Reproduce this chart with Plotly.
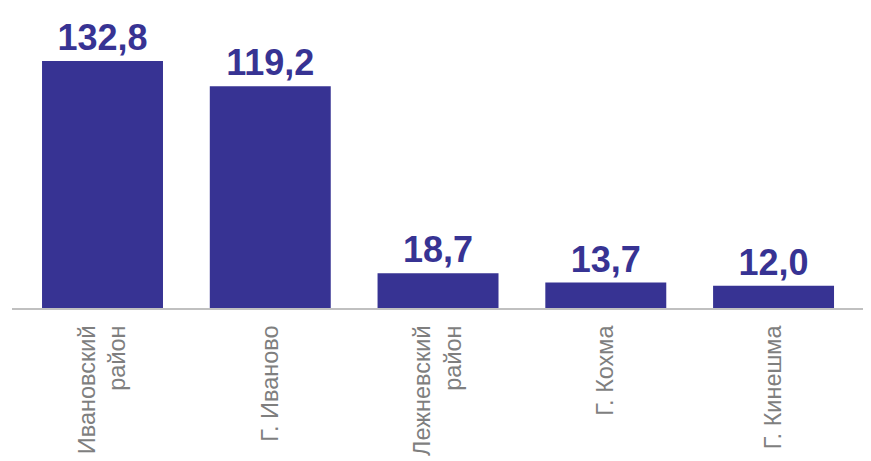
import plotly.graph_objects as go

categories = ["Ивановский<br>район", "Г. Иваново", "Лежневский<br>район", "Г. Кохма", "Г. Кинешма"]
values = [132.8, 119.2, 18.7, 13.7, 12.0]

BAR = "#373393"

fig = go.Figure(
    go.Bar(
        x=categories,
        y=values,
        marker=dict(color=BAR, line=dict(width=0)),
        texttemplate="%{y:.1f}",
        textposition="outside",
        textfont=dict(family="Liberation Sans, Arial, sans-serif", size=36, color=BAR, weight="bold"),
        cliponaxis=False,
    )
)

fig.update_layout(
    width=871,
    height=461,
    margin=dict(l=4, r=12, t=0, b=161),
    paper_bgcolor="white",
    plot_bgcolor="white",
    separators=", ",
    bargap=0.279,
    showlegend=False,
    xaxis=dict(
        range=[-0.5395, 4.557],
        showline=True,
        linecolor="#c0c0c0",
        linewidth=2,
        showgrid=False,
        ticks="",
        tickangle=-90,
        tickfont=dict(family="Liberation Sans, Arial, sans-serif", size=23.5, color="#7f7f7f"),
        ticklabelstandoff=6,
    ),
    yaxis=dict(
        range=[0, 161.3],
        visible=False,
        showgrid=False,
        zeroline=False,
    ),
)

fig.write_html("out.html")
